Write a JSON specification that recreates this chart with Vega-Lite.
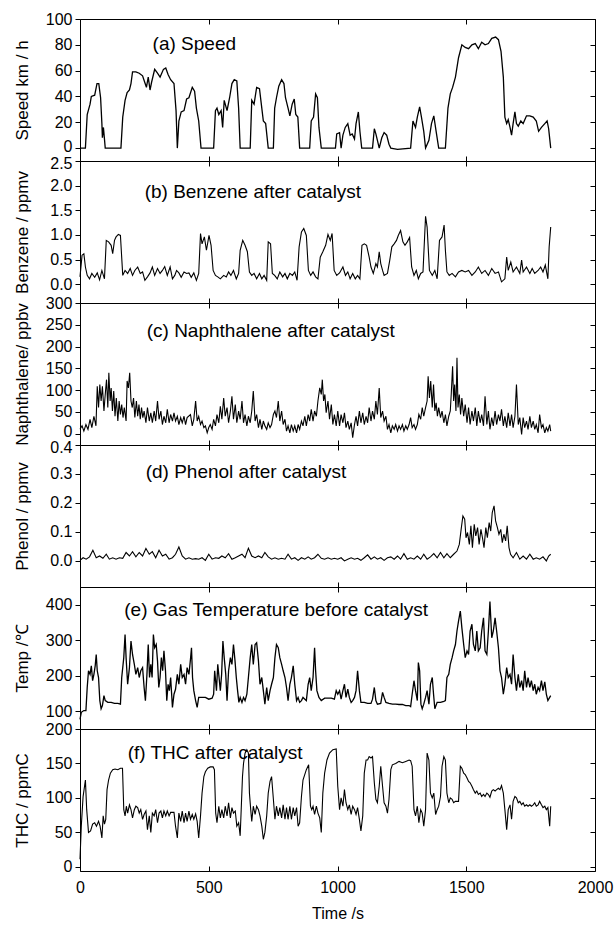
{
"$schema":"https://vega.github.io/schema/vega-lite/v6.json",
"padding":{"left":12,"top":10,"right":4,"bottom":4},
"config":{"font":"Liberation Sans","view":{"stroke":"black","strokeWidth":1},
"axis":{"grid":false,"domain":false,"labelFont":"Liberation Sans","labelFontSize":16,"labelColor":"black","tickColor":"black","titleFont":"Liberation Sans","titleFontSize":17,"titleFontWeight":"normal","titleColor":"black","labelFlush":false,"labelOverlap":false}},
"datasets":{
"speed":[{"t":0,"v":0},{"t":21,"v":0},{"t":28,"v":26},{"t":39,"v":34},{"t":44,"v":40},{"t":57,"v":41},{"t":66,"v":50},{"t":73,"v":50},{"t":80,"v":39},{"t":85,"v":19},{"t":87,"v":8},{"t":91,"v":16},{"t":95,"v":7},{"t":98,"v":0},{"t":159,"v":0},{"t":166,"v":24},{"t":175,"v":37},{"t":183,"v":43},{"t":192,"v":45},{"t":198,"v":50},{"t":204,"v":59},{"t":217,"v":59},{"t":230,"v":58},{"t":243,"v":56},{"t":253,"v":50},{"t":258,"v":47},{"t":265,"v":55},{"t":272,"v":45},{"t":278,"v":51},{"t":290,"v":61},{"t":301,"v":58},{"t":311,"v":55},{"t":324,"v":61},{"t":333,"v":62},{"t":342,"v":57},{"t":352,"v":53},{"t":365,"v":50},{"t":373,"v":29},{"t":378,"v":0},{"t":384,"v":21},{"t":393,"v":28},{"t":404,"v":29},{"t":414,"v":38},{"t":423,"v":39},{"t":436,"v":47},{"t":445,"v":44},{"t":452,"v":31},{"t":461,"v":21},{"t":470,"v":0},{"t":519,"v":0},{"t":526,"v":29},{"t":532,"v":31},{"t":539,"v":26},{"t":548,"v":29},{"t":554,"v":16},{"t":560,"v":37},{"t":571,"v":29},{"t":581,"v":39},{"t":590,"v":50},{"t":599,"v":53},{"t":609,"v":52},{"t":616,"v":31},{"t":622,"v":0},{"t":661,"v":0},{"t":667,"v":37},{"t":676,"v":34},{"t":686,"v":47},{"t":697,"v":46},{"t":706,"v":31},{"t":712,"v":21},{"t":721,"v":19},{"t":731,"v":0},{"t":751,"v":0},{"t":756,"v":31},{"t":763,"v":39},{"t":772,"v":48},{"t":783,"v":53},{"t":792,"v":50},{"t":798,"v":39},{"t":808,"v":31},{"t":815,"v":25},{"t":824,"v":34},{"t":832,"v":38},{"t":838,"v":26},{"t":846,"v":24},{"t":853,"v":0},{"t":892,"v":0},{"t":898,"v":21},{"t":907,"v":24},{"t":915,"v":42},{"t":922,"v":39},{"t":928,"v":16},{"t":937,"v":0},{"t":992,"v":0},{"t":997,"v":11},{"t":1008,"v":12},{"t":1014,"v":0},{"t":1021,"v":10},{"t":1030,"v":16},{"t":1040,"v":19},{"t":1049,"v":10},{"t":1057,"v":11},{"t":1066,"v":7},{"t":1072,"v":19},{"t":1081,"v":28},{"t":1087,"v":13},{"t":1094,"v":0},{"t":1136,"v":0},{"t":1143,"v":15},{"t":1149,"v":11},{"t":1155,"v":6},{"t":1162,"v":0},{"t":1172,"v":8},{"t":1181,"v":12},{"t":1191,"v":10},{"t":1200,"v":3},{"t":1207,"v":0},{"t":1233,"v":-1},{"t":1284,"v":0},{"t":1293,"v":21},{"t":1303,"v":16},{"t":1310,"v":24},{"t":1319,"v":32},{"t":1326,"v":24},{"t":1335,"v":13},{"t":1342,"v":0},{"t":1355,"v":6},{"t":1365,"v":19},{"t":1374,"v":25},{"t":1383,"v":13},{"t":1393,"v":0},{"t":1419,"v":0},{"t":1429,"v":31},{"t":1438,"v":42},{"t":1447,"v":47},{"t":1458,"v":55},{"t":1470,"v":70},{"t":1483,"v":80},{"t":1496,"v":78},{"t":1509,"v":77},{"t":1522,"v":80},{"t":1535,"v":81},{"t":1547,"v":77},{"t":1560,"v":82},{"t":1573,"v":80},{"t":1586,"v":81},{"t":1599,"v":85},{"t":1614,"v":86},{"t":1625,"v":84},{"t":1635,"v":75},{"t":1644,"v":55},{"t":1650,"v":24},{"t":1657,"v":19},{"t":1663,"v":22},{"t":1670,"v":16},{"t":1676,"v":10},{"t":1682,"v":19},{"t":1689,"v":28},{"t":1695,"v":19},{"t":1702,"v":17},{"t":1712,"v":21},{"t":1721,"v":19},{"t":1734,"v":25},{"t":1747,"v":25},{"t":1760,"v":24},{"t":1772,"v":21},{"t":1781,"v":13},{"t":1792,"v":16},{"t":1805,"v":19},{"t":1814,"v":21},{"t":1820,"v":15},{"t":1828,"v":0}],
"benzene":[{"t":0,"v":0.15},{"t":8,"v":0.59},{"t":15,"v":0.62},{"t":21,"v":0.35},{"t":28,"v":0.18},{"t":37,"v":0.11},{"t":46,"v":0.22},{"t":57,"v":0.14},{"t":67,"v":0.23},{"t":76,"v":0.09},{"t":85,"v":0.28},{"t":95,"v":0.11},{"t":102,"v":0.89},{"t":111,"v":0.86},{"t":121,"v":0.79},{"t":127,"v":0.62},{"t":134,"v":0.89},{"t":140,"v":0.96},{"t":149,"v":1.01},{"t":157,"v":0.99},{"t":166,"v":0.18},{"t":175,"v":0.28},{"t":185,"v":0.22},{"t":195,"v":0.32},{"t":204,"v":0.18},{"t":213,"v":0.28},{"t":224,"v":0.35},{"t":234,"v":0.22},{"t":243,"v":0.25},{"t":252,"v":0.08},{"t":262,"v":0.15},{"t":272,"v":0.23},{"t":281,"v":0.35},{"t":290,"v":0.18},{"t":301,"v":0.32},{"t":311,"v":0.22},{"t":320,"v":0.28},{"t":329,"v":0.36},{"t":339,"v":0.18},{"t":350,"v":0.35},{"t":359,"v":0.11},{"t":368,"v":0.18},{"t":375,"v":0.28},{"t":384,"v":0.23},{"t":393,"v":0.14},{"t":404,"v":0.25},{"t":414,"v":0.22},{"t":423,"v":0.23},{"t":432,"v":0.14},{"t":442,"v":0.23},{"t":452,"v":0.08},{"t":461,"v":0.22},{"t":468,"v":1.03},{"t":474,"v":0.82},{"t":483,"v":0.96},{"t":491,"v":0.69},{"t":501,"v":0.99},{"t":509,"v":0.79},{"t":517,"v":0.28},{"t":526,"v":0.18},{"t":535,"v":0.15},{"t":545,"v":0.11},{"t":558,"v":0.18},{"t":568,"v":0.15},{"t":577,"v":0.25},{"t":586,"v":0.18},{"t":596,"v":0.28},{"t":607,"v":0.11},{"t":616,"v":0.22},{"t":622,"v":0.69},{"t":632,"v":0.89},{"t":641,"v":0.79},{"t":650,"v":0.66},{"t":658,"v":0.25},{"t":667,"v":0.18},{"t":676,"v":0.22},{"t":686,"v":0.11},{"t":697,"v":0.22},{"t":706,"v":0.11},{"t":715,"v":0.18},{"t":725,"v":0.08},{"t":731,"v":0.86},{"t":740,"v":0.82},{"t":747,"v":0.22},{"t":756,"v":0.18},{"t":766,"v":0.11},{"t":776,"v":0.25},{"t":787,"v":0.15},{"t":796,"v":0.22},{"t":805,"v":0.11},{"t":815,"v":0.22},{"t":825,"v":0.18},{"t":834,"v":0.25},{"t":843,"v":0.08},{"t":851,"v":0.76},{"t":860,"v":1.06},{"t":869,"v":1.13},{"t":879,"v":0.99},{"t":887,"v":0.28},{"t":896,"v":0.18},{"t":905,"v":0.25},{"t":915,"v":0.15},{"t":924,"v":0.11},{"t":933,"v":0.55},{"t":943,"v":0.66},{"t":954,"v":0.79},{"t":963,"v":1.01},{"t":972,"v":0.89},{"t":979,"v":1.03},{"t":987,"v":0.28},{"t":997,"v":0.18},{"t":1008,"v":0.23},{"t":1021,"v":0.35},{"t":1031,"v":0.18},{"t":1040,"v":0.25},{"t":1049,"v":0.11},{"t":1059,"v":0.22},{"t":1069,"v":0.11},{"t":1078,"v":0.18},{"t":1087,"v":0.11},{"t":1095,"v":0.79},{"t":1104,"v":0.82},{"t":1113,"v":0.79},{"t":1123,"v":0.55},{"t":1130,"v":0.35},{"t":1139,"v":0.22},{"t":1149,"v":0.42},{"t":1155,"v":0.35},{"t":1162,"v":0.66},{"t":1168,"v":0.42},{"t":1175,"v":0.28},{"t":1181,"v":0.18},{"t":1194,"v":0.22},{"t":1203,"v":0.49},{"t":1211,"v":0.76},{"t":1220,"v":0.82},{"t":1229,"v":0.89},{"t":1236,"v":0.99},{"t":1245,"v":1.09},{"t":1254,"v":0.86},{"t":1262,"v":0.79},{"t":1271,"v":0.86},{"t":1280,"v":0.95},{"t":1288,"v":0.35},{"t":1297,"v":0.18},{"t":1306,"v":0.28},{"t":1314,"v":0.11},{"t":1323,"v":0.22},{"t":1332,"v":0.25},{"t":1342,"v":1.38},{"t":1348,"v":1.16},{"t":1357,"v":0.28},{"t":1368,"v":0.18},{"t":1378,"v":0.28},{"t":1387,"v":0.11},{"t":1396,"v":0.89},{"t":1406,"v":0.96},{"t":1414,"v":1.2},{"t":1419,"v":0.69},{"t":1425,"v":0.25},{"t":1434,"v":0.18},{"t":1445,"v":0.22},{"t":1458,"v":0.15},{"t":1470,"v":0.25},{"t":1483,"v":0.28},{"t":1496,"v":0.25},{"t":1509,"v":0.28},{"t":1522,"v":0.18},{"t":1535,"v":0.25},{"t":1547,"v":0.35},{"t":1560,"v":0.22},{"t":1573,"v":0.28},{"t":1586,"v":0.18},{"t":1599,"v":0.32},{"t":1612,"v":0.22},{"t":1625,"v":0.25},{"t":1637,"v":0.05},{"t":1650,"v":0.11},{"t":1657,"v":0.55},{"t":1663,"v":0.28},{"t":1673,"v":0.45},{"t":1682,"v":0.25},{"t":1695,"v":0.35},{"t":1708,"v":0.22},{"t":1715,"v":0.49},{"t":1721,"v":0.25},{"t":1734,"v":0.35},{"t":1747,"v":0.22},{"t":1756,"v":0.32},{"t":1766,"v":0.22},{"t":1779,"v":0.28},{"t":1789,"v":0.35},{"t":1798,"v":0.25},{"t":1807,"v":0.39},{"t":1817,"v":0.11},{"t":1822,"v":0.76},{"t":1828,"v":1.16}],
"naph":[{"t":0,"v":10},{"t":8,"v":18},{"t":15,"v":6},{"t":23,"v":21},{"t":31,"v":10},{"t":39,"v":33},{"t":46,"v":14},{"t":54,"v":40},{"t":62,"v":18},{"t":67,"v":109},{"t":72,"v":60},{"t":77,"v":113},{"t":82,"v":75},{"t":87,"v":109},{"t":93,"v":52},{"t":98,"v":90},{"t":103,"v":124},{"t":108,"v":60},{"t":112,"v":140},{"t":117,"v":75},{"t":121,"v":105},{"t":126,"v":52},{"t":131,"v":98},{"t":136,"v":40},{"t":141,"v":82},{"t":147,"v":29},{"t":152,"v":75},{"t":157,"v":44},{"t":162,"v":67},{"t":167,"v":37},{"t":172,"v":60},{"t":179,"v":29},{"t":183,"v":121},{"t":188,"v":105},{"t":193,"v":140},{"t":198,"v":75},{"t":203,"v":60},{"t":208,"v":82},{"t":213,"v":37},{"t":219,"v":75},{"t":224,"v":40},{"t":229,"v":67},{"t":234,"v":33},{"t":239,"v":60},{"t":244,"v":37},{"t":249,"v":52},{"t":256,"v":25},{"t":262,"v":60},{"t":269,"v":29},{"t":275,"v":48},{"t":281,"v":25},{"t":288,"v":52},{"t":294,"v":29},{"t":301,"v":75},{"t":307,"v":33},{"t":314,"v":52},{"t":320,"v":21},{"t":326,"v":40},{"t":333,"v":25},{"t":339,"v":56},{"t":346,"v":25},{"t":352,"v":44},{"t":359,"v":29},{"t":365,"v":48},{"t":371,"v":29},{"t":378,"v":40},{"t":384,"v":21},{"t":391,"v":37},{"t":397,"v":25},{"t":404,"v":40},{"t":410,"v":21},{"t":416,"v":37},{"t":429,"v":44},{"t":436,"v":18},{"t":442,"v":33},{"t":449,"v":75},{"t":455,"v":29},{"t":461,"v":40},{"t":468,"v":21},{"t":474,"v":29},{"t":481,"v":14},{"t":487,"v":18},{"t":494,"v":2},{"t":500,"v":14},{"t":506,"v":21},{"t":513,"v":10},{"t":519,"v":33},{"t":526,"v":18},{"t":532,"v":44},{"t":539,"v":25},{"t":545,"v":63},{"t":551,"v":33},{"t":558,"v":82},{"t":564,"v":40},{"t":571,"v":60},{"t":577,"v":25},{"t":584,"v":52},{"t":590,"v":86},{"t":596,"v":33},{"t":603,"v":67},{"t":609,"v":25},{"t":616,"v":52},{"t":622,"v":33},{"t":629,"v":75},{"t":635,"v":25},{"t":641,"v":44},{"t":648,"v":18},{"t":654,"v":40},{"t":661,"v":25},{"t":667,"v":52},{"t":673,"v":98},{"t":680,"v":29},{"t":686,"v":44},{"t":693,"v":14},{"t":699,"v":33},{"t":706,"v":10},{"t":712,"v":29},{"t":718,"v":18},{"t":725,"v":10},{"t":731,"v":25},{"t":738,"v":14},{"t":744,"v":21},{"t":751,"v":44},{"t":757,"v":52},{"t":763,"v":37},{"t":770,"v":75},{"t":776,"v":29},{"t":783,"v":52},{"t":789,"v":21},{"t":796,"v":33},{"t":802,"v":6},{"t":808,"v":18},{"t":815,"v":2},{"t":821,"v":21},{"t":828,"v":6},{"t":834,"v":18},{"t":841,"v":2},{"t":847,"v":21},{"t":853,"v":10},{"t":860,"v":29},{"t":866,"v":18},{"t":873,"v":40},{"t":879,"v":18},{"t":886,"v":44},{"t":892,"v":29},{"t":898,"v":56},{"t":905,"v":29},{"t":911,"v":52},{"t":918,"v":40},{"t":924,"v":75},{"t":931,"v":105},{"t":937,"v":90},{"t":941,"v":124},{"t":946,"v":75},{"t":951,"v":90},{"t":956,"v":48},{"t":963,"v":75},{"t":969,"v":33},{"t":976,"v":67},{"t":982,"v":21},{"t":988,"v":44},{"t":995,"v":18},{"t":1001,"v":52},{"t":1008,"v":18},{"t":1014,"v":44},{"t":1021,"v":25},{"t":1027,"v":48},{"t":1033,"v":14},{"t":1040,"v":29},{"t":1046,"v":10},{"t":1053,"v":25},{"t":1059,"v":-9},{"t":1066,"v":21},{"t":1072,"v":40},{"t":1078,"v":18},{"t":1085,"v":52},{"t":1091,"v":25},{"t":1098,"v":48},{"t":1104,"v":21},{"t":1111,"v":40},{"t":1117,"v":25},{"t":1123,"v":60},{"t":1130,"v":29},{"t":1136,"v":52},{"t":1143,"v":33},{"t":1149,"v":75},{"t":1155,"v":44},{"t":1162,"v":105},{"t":1168,"v":37},{"t":1175,"v":52},{"t":1181,"v":29},{"t":1188,"v":40},{"t":1194,"v":10},{"t":1200,"v":21},{"t":1207,"v":2},{"t":1213,"v":18},{"t":1220,"v":10},{"t":1226,"v":21},{"t":1233,"v":6},{"t":1239,"v":18},{"t":1245,"v":10},{"t":1252,"v":21},{"t":1258,"v":6},{"t":1265,"v":18},{"t":1271,"v":10},{"t":1278,"v":21},{"t":1284,"v":37},{"t":1290,"v":14},{"t":1297,"v":21},{"t":1303,"v":10},{"t":1310,"v":21},{"t":1316,"v":44},{"t":1323,"v":33},{"t":1329,"v":60},{"t":1335,"v":40},{"t":1342,"v":60},{"t":1348,"v":75},{"t":1352,"v":132},{"t":1357,"v":82},{"t":1362,"v":121},{"t":1368,"v":60},{"t":1373,"v":113},{"t":1378,"v":52},{"t":1383,"v":71},{"t":1388,"v":40},{"t":1393,"v":60},{"t":1400,"v":37},{"t":1406,"v":52},{"t":1413,"v":25},{"t":1419,"v":44},{"t":1425,"v":18},{"t":1432,"v":40},{"t":1438,"v":52},{"t":1442,"v":94},{"t":1447,"v":155},{"t":1451,"v":75},{"t":1455,"v":113},{"t":1460,"v":52},{"t":1464,"v":174},{"t":1468,"v":60},{"t":1473,"v":90},{"t":1478,"v":44},{"t":1483,"v":82},{"t":1490,"v":40},{"t":1496,"v":67},{"t":1503,"v":25},{"t":1509,"v":60},{"t":1515,"v":21},{"t":1522,"v":52},{"t":1528,"v":29},{"t":1535,"v":60},{"t":1541,"v":18},{"t":1547,"v":52},{"t":1554,"v":25},{"t":1560,"v":44},{"t":1567,"v":18},{"t":1573,"v":86},{"t":1580,"v":21},{"t":1586,"v":52},{"t":1592,"v":10},{"t":1599,"v":37},{"t":1605,"v":18},{"t":1612,"v":52},{"t":1618,"v":21},{"t":1625,"v":44},{"t":1631,"v":29},{"t":1637,"v":56},{"t":1644,"v":18},{"t":1650,"v":40},{"t":1657,"v":14},{"t":1663,"v":48},{"t":1670,"v":18},{"t":1676,"v":44},{"t":1682,"v":14},{"t":1689,"v":40},{"t":1695,"v":113},{"t":1702,"v":21},{"t":1708,"v":37},{"t":1715,"v":-2},{"t":1721,"v":37},{"t":1727,"v":14},{"t":1734,"v":29},{"t":1740,"v":10},{"t":1747,"v":40},{"t":1753,"v":14},{"t":1760,"v":29},{"t":1766,"v":10},{"t":1772,"v":21},{"t":1779,"v":2},{"t":1785,"v":44},{"t":1792,"v":14},{"t":1798,"v":21},{"t":1805,"v":2},{"t":1811,"v":14},{"t":1817,"v":6},{"t":1824,"v":21},{"t":1828,"v":6}],
"phenol":[{"t":0,"v":0.002},{"t":12,"v":0.011},{"t":24,"v":0.006},{"t":37,"v":0.014},{"t":50,"v":0.037},{"t":63,"v":0.011},{"t":76,"v":0.017},{"t":89,"v":0.009},{"t":102,"v":0.023},{"t":114,"v":0.006},{"t":127,"v":0.011},{"t":140,"v":0.006},{"t":153,"v":0.011},{"t":166,"v":0.009},{"t":179,"v":0.029},{"t":192,"v":0.017},{"t":204,"v":0.032},{"t":217,"v":0.014},{"t":230,"v":0.029},{"t":243,"v":0.017},{"t":256,"v":0.043},{"t":269,"v":0.023},{"t":281,"v":0.032},{"t":294,"v":0.011},{"t":307,"v":0.037},{"t":320,"v":0.017},{"t":333,"v":0.023},{"t":346,"v":0.006},{"t":359,"v":0.011},{"t":371,"v":0.023},{"t":384,"v":0.048},{"t":397,"v":0.017},{"t":410,"v":0.006},{"t":423,"v":0.011},{"t":436,"v":0.006},{"t":449,"v":0.008},{"t":461,"v":0.006},{"t":474,"v":0.011},{"t":487,"v":0.002},{"t":500,"v":0.023},{"t":513,"v":0.006},{"t":526,"v":0.011},{"t":539,"v":0.009},{"t":551,"v":0.017},{"t":564,"v":0.011},{"t":577,"v":0.025},{"t":590,"v":0.006},{"t":603,"v":0.011},{"t":616,"v":0.017},{"t":629,"v":0.023},{"t":641,"v":0.011},{"t":654,"v":0.044},{"t":667,"v":0.017},{"t":680,"v":0.011},{"t":693,"v":0.017},{"t":706,"v":0.011},{"t":718,"v":0.029},{"t":731,"v":0.014},{"t":744,"v":0.006},{"t":757,"v":0.011},{"t":770,"v":0.006},{"t":783,"v":0.009},{"t":796,"v":0.006},{"t":808,"v":0.023},{"t":821,"v":0.006},{"t":834,"v":0.011},{"t":847,"v":0.002},{"t":860,"v":0.011},{"t":873,"v":0.006},{"t":886,"v":0.014},{"t":898,"v":0.006},{"t":911,"v":0.011},{"t":924,"v":0.023},{"t":937,"v":0.009},{"t":950,"v":0.006},{"t":963,"v":0.011},{"t":976,"v":0.006},{"t":988,"v":0.009},{"t":1001,"v":0.006},{"t":1014,"v":0.011},{"t":1027,"v":0},{"t":1040,"v":0.006},{"t":1053,"v":0.011},{"t":1066,"v":0.006},{"t":1078,"v":0.009},{"t":1091,"v":0.002},{"t":1104,"v":0.011},{"t":1117,"v":0.021},{"t":1130,"v":0.006},{"t":1143,"v":0.014},{"t":1155,"v":0.006},{"t":1168,"v":0.011},{"t":1181,"v":0.002},{"t":1194,"v":0.011},{"t":1207,"v":0.014},{"t":1220,"v":0.006},{"t":1233,"v":0.017},{"t":1245,"v":0.006},{"t":1258,"v":0.025},{"t":1271,"v":0.006},{"t":1284,"v":0.011},{"t":1297,"v":0.006},{"t":1310,"v":0.017},{"t":1323,"v":0.006},{"t":1335,"v":0.023},{"t":1348,"v":0.006},{"t":1361,"v":0.014},{"t":1374,"v":0.025},{"t":1387,"v":0.011},{"t":1400,"v":0.029},{"t":1413,"v":0.011},{"t":1425,"v":0.025},{"t":1438,"v":0.011},{"t":1451,"v":0.023},{"t":1464,"v":0.034},{"t":1473,"v":0.057},{"t":1481,"v":0.115},{"t":1487,"v":0.155},{"t":1494,"v":0.144},{"t":1499,"v":0.08},{"t":1505,"v":0.098},{"t":1512,"v":0.057},{"t":1518,"v":0.121},{"t":1524,"v":0.046},{"t":1531,"v":0.126},{"t":1537,"v":0.086},{"t":1544,"v":0.115},{"t":1550,"v":0.057},{"t":1557,"v":0.109},{"t":1563,"v":0.08},{"t":1569,"v":0.046},{"t":1576,"v":0.115},{"t":1582,"v":0.08},{"t":1589,"v":0.132},{"t":1595,"v":0.103},{"t":1601,"v":0.167},{"t":1608,"v":0.19},{"t":1614,"v":0.138},{"t":1621,"v":0.115},{"t":1627,"v":0.092},{"t":1634,"v":0.109},{"t":1640,"v":0.063},{"t":1646,"v":0.092},{"t":1653,"v":0.069},{"t":1659,"v":0.121},{"t":1666,"v":0.046},{"t":1672,"v":0.023},{"t":1682,"v":0.011},{"t":1695,"v":0.029},{"t":1708,"v":0.006},{"t":1721,"v":0.017},{"t":1734,"v":0.006},{"t":1747,"v":0.023},{"t":1760,"v":0.006},{"t":1772,"v":0.011},{"t":1785,"v":0.006},{"t":1798,"v":0.014},{"t":1811,"v":0},{"t":1820,"v":0.017},{"t":1828,"v":0.023}],
"temp":[{"t":0,"v":77},{"t":5,"v":97},{"t":15,"v":102},{"t":23,"v":102},{"t":28,"v":167},{"t":33,"v":214},{"t":39,"v":204},{"t":44,"v":228},{"t":49,"v":186},{"t":54,"v":204},{"t":59,"v":228},{"t":63,"v":260},{"t":67,"v":214},{"t":72,"v":195},{"t":77,"v":130},{"t":82,"v":107},{"t":87,"v":116},{"t":93,"v":144},{"t":98,"v":130},{"t":108,"v":125},{"t":121,"v":125},{"t":134,"v":122},{"t":147,"v":122},{"t":157,"v":120},{"t":162,"v":195},{"t":170,"v":251},{"t":175,"v":316},{"t":179,"v":251},{"t":185,"v":176},{"t":192,"v":223},{"t":198,"v":298},{"t":204,"v":260},{"t":211,"v":232},{"t":217,"v":204},{"t":224,"v":223},{"t":230,"v":195},{"t":236,"v":214},{"t":243,"v":223},{"t":249,"v":167},{"t":254,"v":130},{"t":260,"v":204},{"t":265,"v":288},{"t":270,"v":195},{"t":275,"v":232},{"t":280,"v":195},{"t":285,"v":316},{"t":290,"v":279},{"t":296,"v":288},{"t":301,"v":242},{"t":306,"v":167},{"t":311,"v":195},{"t":316,"v":251},{"t":321,"v":214},{"t":326,"v":270},{"t":332,"v":214},{"t":337,"v":130},{"t":342,"v":176},{"t":347,"v":158},{"t":352,"v":195},{"t":359,"v":111},{"t":365,"v":148},{"t":371,"v":162},{"t":378,"v":204},{"t":384,"v":176},{"t":391,"v":232},{"t":397,"v":195},{"t":404,"v":204},{"t":410,"v":176},{"t":416,"v":223},{"t":423,"v":204},{"t":429,"v":246},{"t":433,"v":279},{"t":437,"v":195},{"t":442,"v":158},{"t":449,"v":130},{"t":455,"v":111},{"t":461,"v":139},{"t":474,"v":139},{"t":487,"v":139},{"t":500,"v":134},{"t":513,"v":137},{"t":519,"v":148},{"t":523,"v":214},{"t":530,"v":158},{"t":535,"v":232},{"t":540,"v":195},{"t":545,"v":158},{"t":550,"v":204},{"t":555,"v":298},{"t":560,"v":251},{"t":566,"v":204},{"t":571,"v":130},{"t":577,"v":214},{"t":584,"v":251},{"t":590,"v":232},{"t":596,"v":288},{"t":602,"v":242},{"t":607,"v":195},{"t":612,"v":158},{"t":617,"v":125},{"t":622,"v":139},{"t":629,"v":125},{"t":635,"v":139},{"t":641,"v":130},{"t":648,"v":148},{"t":654,"v":195},{"t":661,"v":251},{"t":667,"v":288},{"t":673,"v":232},{"t":680,"v":288},{"t":686,"v":293},{"t":693,"v":242},{"t":699,"v":176},{"t":706,"v":195},{"t":712,"v":158},{"t":718,"v":120},{"t":725,"v":167},{"t":731,"v":130},{"t":738,"v":158},{"t":744,"v":176},{"t":751,"v":195},{"t":757,"v":251},{"t":763,"v":288},{"t":770,"v":279},{"t":776,"v":251},{"t":783,"v":232},{"t":789,"v":214},{"t":796,"v":195},{"t":802,"v":167},{"t":808,"v":130},{"t":815,"v":176},{"t":821,"v":195},{"t":828,"v":228},{"t":834,"v":176},{"t":841,"v":130},{"t":847,"v":139},{"t":853,"v":125},{"t":860,"v":130},{"t":866,"v":139},{"t":879,"v":130},{"t":886,"v":176},{"t":892,"v":195},{"t":898,"v":158},{"t":905,"v":195},{"t":911,"v":279},{"t":915,"v":214},{"t":920,"v":158},{"t":928,"v":139},{"t":937,"v":130},{"t":950,"v":137},{"t":963,"v":137},{"t":976,"v":137},{"t":988,"v":134},{"t":995,"v":158},{"t":1001,"v":148},{"t":1008,"v":158},{"t":1014,"v":134},{"t":1021,"v":158},{"t":1027,"v":176},{"t":1033,"v":139},{"t":1040,"v":162},{"t":1046,"v":139},{"t":1053,"v":125},{"t":1059,"v":130},{"t":1066,"v":139},{"t":1072,"v":158},{"t":1078,"v":214},{"t":1085,"v":158},{"t":1091,"v":125},{"t":1104,"v":125},{"t":1117,"v":122},{"t":1130,"v":122},{"t":1136,"v":134},{"t":1143,"v":167},{"t":1149,"v":130},{"t":1155,"v":120},{"t":1168,"v":122},{"t":1175,"v":153},{"t":1181,"v":139},{"t":1188,"v":125},{"t":1200,"v":122},{"t":1213,"v":120},{"t":1226,"v":120},{"t":1239,"v":119},{"t":1252,"v":119},{"t":1265,"v":116},{"t":1278,"v":116},{"t":1284,"v":113},{"t":1290,"v":148},{"t":1297,"v":186},{"t":1303,"v":158},{"t":1310,"v":130},{"t":1314,"v":237},{"t":1319,"v":214},{"t":1324,"v":120},{"t":1329,"v":107},{"t":1335,"v":120},{"t":1342,"v":139},{"t":1348,"v":158},{"t":1355,"v":120},{"t":1361,"v":176},{"t":1368,"v":195},{"t":1373,"v":148},{"t":1378,"v":107},{"t":1387,"v":125},{"t":1400,"v":125},{"t":1413,"v":128},{"t":1419,"v":130},{"t":1425,"v":195},{"t":1432,"v":204},{"t":1438,"v":232},{"t":1445,"v":251},{"t":1451,"v":270},{"t":1458,"v":288},{"t":1464,"v":326},{"t":1470,"v":354},{"t":1477,"v":382},{"t":1483,"v":335},{"t":1490,"v":288},{"t":1496,"v":251},{"t":1503,"v":270},{"t":1509,"v":260},{"t":1515,"v":326},{"t":1522,"v":345},{"t":1528,"v":288},{"t":1535,"v":270},{"t":1541,"v":326},{"t":1547,"v":270},{"t":1554,"v":279},{"t":1560,"v":326},{"t":1567,"v":363},{"t":1573,"v":270},{"t":1580,"v":260},{"t":1586,"v":326},{"t":1592,"v":409},{"t":1599,"v":307},{"t":1605,"v":326},{"t":1612,"v":363},{"t":1618,"v":326},{"t":1625,"v":279},{"t":1631,"v":214},{"t":1637,"v":195},{"t":1644,"v":148},{"t":1650,"v":176},{"t":1657,"v":223},{"t":1663,"v":195},{"t":1670,"v":204},{"t":1676,"v":176},{"t":1682,"v":260},{"t":1689,"v":195},{"t":1695,"v":158},{"t":1702,"v":204},{"t":1708,"v":167},{"t":1715,"v":186},{"t":1721,"v":158},{"t":1727,"v":214},{"t":1734,"v":167},{"t":1740,"v":195},{"t":1747,"v":167},{"t":1753,"v":186},{"t":1760,"v":158},{"t":1766,"v":176},{"t":1772,"v":148},{"t":1779,"v":167},{"t":1785,"v":158},{"t":1792,"v":186},{"t":1798,"v":158},{"t":1805,"v":183},{"t":1811,"v":148},{"t":1817,"v":130},{"t":1824,"v":139},{"t":1828,"v":144}],
"thc":[{"t":0,"v":11},{"t":5,"v":59},{"t":12,"v":102},{"t":21,"v":126},{"t":26,"v":83},{"t":33,"v":50},{"t":41,"v":52},{"t":49,"v":62},{"t":57,"v":64},{"t":64,"v":59},{"t":72,"v":66},{"t":78,"v":59},{"t":85,"v":42},{"t":90,"v":74},{"t":95,"v":62},{"t":100,"v":69},{"t":105,"v":112},{"t":111,"v":126},{"t":118,"v":136},{"t":127,"v":141},{"t":136,"v":142},{"t":147,"v":141},{"t":157,"v":143},{"t":165,"v":143},{"t":170,"v":83},{"t":175,"v":74},{"t":180,"v":88},{"t":185,"v":78},{"t":192,"v":90},{"t":198,"v":83},{"t":204,"v":71},{"t":211,"v":83},{"t":217,"v":88},{"t":224,"v":86},{"t":230,"v":78},{"t":236,"v":83},{"t":243,"v":69},{"t":249,"v":76},{"t":256,"v":81},{"t":262,"v":54},{"t":269,"v":74},{"t":275,"v":50},{"t":281,"v":78},{"t":288,"v":74},{"t":294,"v":83},{"t":301,"v":64},{"t":307,"v":78},{"t":314,"v":81},{"t":320,"v":71},{"t":326,"v":81},{"t":333,"v":74},{"t":339,"v":81},{"t":346,"v":74},{"t":352,"v":79},{"t":365,"v":79},{"t":371,"v":59},{"t":378,"v":42},{"t":384,"v":78},{"t":391,"v":66},{"t":397,"v":81},{"t":404,"v":64},{"t":410,"v":78},{"t":416,"v":66},{"t":423,"v":81},{"t":429,"v":69},{"t":436,"v":76},{"t":442,"v":69},{"t":449,"v":77},{"t":455,"v":66},{"t":461,"v":42},{"t":468,"v":74},{"t":474,"v":107},{"t":481,"v":131},{"t":487,"v":138},{"t":496,"v":143},{"t":506,"v":145},{"t":517,"v":145},{"t":522,"v":141},{"t":527,"v":78},{"t":532,"v":64},{"t":539,"v":88},{"t":545,"v":71},{"t":551,"v":83},{"t":558,"v":71},{"t":564,"v":88},{"t":571,"v":74},{"t":577,"v":93},{"t":584,"v":71},{"t":590,"v":86},{"t":596,"v":78},{"t":603,"v":81},{"t":609,"v":59},{"t":616,"v":64},{"t":622,"v":45},{"t":626,"v":83},{"t":631,"v":131},{"t":635,"v":150},{"t":641,"v":165},{"t":648,"v":170},{"t":654,"v":165},{"t":658,"v":107},{"t":663,"v":83},{"t":667,"v":66},{"t":673,"v":88},{"t":680,"v":76},{"t":686,"v":88},{"t":693,"v":83},{"t":699,"v":74},{"t":706,"v":59},{"t":712,"v":40},{"t":718,"v":50},{"t":725,"v":74},{"t":731,"v":107},{"t":738,"v":124},{"t":744,"v":131},{"t":751,"v":98},{"t":757,"v":69},{"t":763,"v":88},{"t":770,"v":74},{"t":776,"v":86},{"t":783,"v":71},{"t":789,"v":90},{"t":796,"v":69},{"t":802,"v":86},{"t":808,"v":69},{"t":815,"v":88},{"t":821,"v":69},{"t":828,"v":86},{"t":834,"v":74},{"t":841,"v":86},{"t":847,"v":59},{"t":853,"v":64},{"t":860,"v":102},{"t":866,"v":126},{"t":879,"v":141},{"t":888,"v":148},{"t":895,"v":88},{"t":900,"v":83},{"t":905,"v":88},{"t":911,"v":76},{"t":918,"v":88},{"t":924,"v":78},{"t":931,"v":71},{"t":937,"v":50},{"t":943,"v":107},{"t":950,"v":136},{"t":959,"v":155},{"t":969,"v":165},{"t":982,"v":170},{"t":995,"v":171},{"t":1001,"v":117},{"t":1008,"v":83},{"t":1014,"v":100},{"t":1021,"v":88},{"t":1027,"v":112},{"t":1033,"v":93},{"t":1040,"v":83},{"t":1046,"v":90},{"t":1053,"v":76},{"t":1059,"v":88},{"t":1066,"v":83},{"t":1072,"v":76},{"t":1078,"v":86},{"t":1085,"v":69},{"t":1091,"v":52},{"t":1098,"v":74},{"t":1104,"v":136},{"t":1111,"v":155},{"t":1117,"v":155},{"t":1123,"v":160},{"t":1130,"v":158},{"t":1136,"v":160},{"t":1143,"v":122},{"t":1149,"v":98},{"t":1155,"v":93},{"t":1162,"v":117},{"t":1168,"v":146},{"t":1175,"v":117},{"t":1181,"v":93},{"t":1188,"v":88},{"t":1194,"v":78},{"t":1200,"v":98},{"t":1207,"v":141},{"t":1213,"v":148},{"t":1226,"v":150},{"t":1239,"v":153},{"t":1252,"v":151},{"t":1265,"v":153},{"t":1278,"v":155},{"t":1284,"v":154},{"t":1290,"v":146},{"t":1297,"v":83},{"t":1303,"v":74},{"t":1310,"v":88},{"t":1316,"v":64},{"t":1323,"v":83},{"t":1329,"v":78},{"t":1335,"v":59},{"t":1342,"v":83},{"t":1348,"v":165},{"t":1355,"v":155},{"t":1361,"v":107},{"t":1368,"v":100},{"t":1374,"v":107},{"t":1381,"v":76},{"t":1387,"v":83},{"t":1393,"v":88},{"t":1400,"v":102},{"t":1406,"v":146},{"t":1413,"v":160},{"t":1419,"v":155},{"t":1425,"v":107},{"t":1432,"v":93},{"t":1438,"v":100},{"t":1445,"v":98},{"t":1451,"v":93},{"t":1458,"v":95},{"t":1470,"v":95},{"t":1477,"v":146},{"t":1483,"v":143},{"t":1490,"v":136},{"t":1496,"v":134},{"t":1503,"v":129},{"t":1509,"v":124},{"t":1515,"v":122},{"t":1522,"v":117},{"t":1528,"v":112},{"t":1535,"v":107},{"t":1541,"v":110},{"t":1547,"v":105},{"t":1554,"v":107},{"t":1560,"v":102},{"t":1567,"v":105},{"t":1573,"v":102},{"t":1580,"v":107},{"t":1586,"v":105},{"t":1592,"v":101},{"t":1599,"v":110},{"t":1605,"v":112},{"t":1612,"v":110},{"t":1618,"v":112},{"t":1625,"v":114},{"t":1631,"v":112},{"t":1637,"v":118},{"t":1644,"v":107},{"t":1650,"v":83},{"t":1657,"v":54},{"t":1663,"v":83},{"t":1670,"v":90},{"t":1676,"v":69},{"t":1682,"v":95},{"t":1689,"v":102},{"t":1695,"v":100},{"t":1702,"v":93},{"t":1708,"v":95},{"t":1715,"v":90},{"t":1721,"v":93},{"t":1727,"v":88},{"t":1734,"v":90},{"t":1740,"v":88},{"t":1747,"v":90},{"t":1753,"v":88},{"t":1760,"v":90},{"t":1766,"v":93},{"t":1772,"v":88},{"t":1779,"v":90},{"t":1785,"v":95},{"t":1792,"v":90},{"t":1798,"v":86},{"t":1805,"v":88},{"t":1811,"v":83},{"t":1817,"v":86},{"t":1824,"v":59},{"t":1828,"v":88}]
},
"spacing":0,
"bounds":"flush",
"vconcat":[
{"width":515,"height":142,"resolve":{"axis":{"x":"independent","y":"independent"}},
"layer":[
{"data":{"name":"speed"},"mark":{"type":"line","color":"black","strokeWidth":1.3},
"encoding":{"x":{"field":"t","type":"quantitative","scale":{"domain":[0,2000],"nice":false},"axis":{"orient":"bottom","values":[0,500,1000,1500,2000],"tickSize":-5,"labels":false,"title":null}},
"y":{"field":"v","type":"quantitative","scale":{"domain":[-10,100],"nice":false,"zero":false},"axis":{"orient":"left","values":[0,20,40,60,80,100],"tickSize":5,"labelPadding":3,"labelOffset":{"condition":{"test":"datum.value == 0","value":-2},"value":0},"title":"Speed  km / h","titleX":-58,"titleY":71,"titleAngle":-90,"titleAlign":"center","titleBaseline":"middle"}}}},
{"data":{"values":[{}]},"mark":{"type":"text","align":"left","baseline":"alphabetic","fontSize":19,"font":"Liberation Sans","color":"black"},
"encoding":{"x":{"datum":282,"type":"quantitative","scale":{"domain":[0,2000],"nice":false},"axis":{"orient":"top","values":[0,500,1000,1500,2000],"tickSize":-5,"labels":false,"title":null}},
"y":{"datum":76,"type":"quantitative","scale":{"domain":[-10,100],"nice":false,"zero":false},"axis":{"orient":"right","values":[0,20,40,60,80,100],"tickSize":-5,"labels":false,"title":null}},
"text":{"value":"(a) Speed"}}}]},
{"width":515,"height":142,"resolve":{"axis":{"x":"independent","y":"independent"}},
"layer":[
{"data":{"name":"benzene"},"mark":{"type":"line","color":"black","strokeWidth":1.1},
"encoding":{"x":{"field":"t","type":"quantitative","scale":{"domain":[0,2000],"nice":false},"axis":{"orient":"bottom","values":[0,500,1000,1500,2000],"tickSize":-5,"labels":false,"title":null}},
"y":{"field":"v","type":"quantitative","scale":{"domain":[-0.38,2.5],"nice":false,"zero":false},"axis":{"orient":"left","values":[0,0.5,1,1.5,2,2.5],"format":".1f","tickSize":5,"labelPadding":3,"labelOffset":{"condition":{"test":"datum.value == 2.5","value":2},"value":0},"title":"Benzene  / ppmv","titleX":-58,"titleY":71,"titleAngle":-90,"titleAlign":"center","titleBaseline":"middle"}}}},
{"data":{"values":[{}]},"mark":{"type":"text","align":"left","baseline":"alphabetic","fontSize":19,"font":"Liberation Sans","color":"black"},
"encoding":{"x":{"datum":251,"type":"quantitative","scale":{"domain":[0,2000],"nice":false},"axis":{"orient":"top","values":[0,500,1000,1500,2000],"tickSize":-5,"labels":false,"title":null}},
"y":{"datum":1.75,"type":"quantitative","scale":{"domain":[-0.38,2.5],"nice":false,"zero":false},"axis":{"orient":"right","values":[0,0.5,1,1.5,2,2.5],"tickSize":-5,"labels":false,"title":null}},
"text":{"value":"(b) Benzene after catalyst"}}}]},
{"width":515,"height":142,"resolve":{"axis":{"x":"independent","y":"independent"}},
"layer":[
{"data":{"name":"naph"},"mark":{"type":"line","color":"black","strokeWidth":1.1},
"encoding":{"x":{"field":"t","type":"quantitative","scale":{"domain":[0,2000],"nice":false},"axis":{"orient":"bottom","values":[0,500,1000,1500,2000],"tickSize":-5,"labels":false,"title":null}},
"y":{"field":"v","type":"quantitative","scale":{"domain":[-26,300],"nice":false,"zero":false},"axis":{"orient":"left","values":[0,50,100,150,200,250,300],"tickSize":5,"labelPadding":3,"labelOffset":{"condition":{"test":"datum.value == 0","value":-2},"value":0},"title":"Naphthalene/ ppbv","titleX":-58,"titleY":71,"titleAngle":-90,"titleAlign":"center","titleBaseline":"middle"}}}},
{"data":{"values":[{}]},"mark":{"type":"text","align":"left","baseline":"alphabetic","fontSize":19,"font":"Liberation Sans","color":"black"},
"encoding":{"x":{"datum":259,"type":"quantitative","scale":{"domain":[0,2000],"nice":false},"axis":{"orient":"top","values":[0,500,1000,1500,2000],"tickSize":-5,"labels":false,"title":null}},
"y":{"datum":222,"type":"quantitative","scale":{"domain":[-26,300],"nice":false,"zero":false},"axis":{"orient":"right","values":[0,50,100,150,200,250,300],"tickSize":-5,"labels":false,"title":null}},
"text":{"value":"(c) Naphthalene after catalyst"}}}]},
{"width":515,"height":142,"resolve":{"axis":{"x":"independent","y":"independent"}},
"layer":[
{"data":{"name":"phenol"},"mark":{"type":"line","color":"black","strokeWidth":1.1},
"encoding":{"x":{"field":"t","type":"quantitative","scale":{"domain":[0,2000],"nice":false},"axis":{"orient":"bottom","values":[0,500,1000,1500,2000],"tickSize":-5,"labels":false,"title":null}},
"y":{"field":"v","type":"quantitative","scale":{"domain":[-0.09,0.4],"nice":false,"zero":false},"axis":{"orient":"left","values":[0,0.1,0.2,0.3,0.4],"format":".1f","tickSize":5,"labelPadding":3,"labelOffset":{"condition":{"test":"datum.value == 0.4","value":2},"value":0},"title":"Phenol  / ppmv","titleX":-58,"titleY":71,"titleAngle":-90,"titleAlign":"center","titleBaseline":"middle"}}}},
{"data":{"values":[{}]},"mark":{"type":"text","align":"left","baseline":"alphabetic","fontSize":19,"font":"Liberation Sans","color":"black"},
"encoding":{"x":{"datum":255,"type":"quantitative","scale":{"domain":[0,2000],"nice":false},"axis":{"orient":"top","values":[0,500,1000,1500,2000],"tickSize":-5,"labels":false,"title":null}},
"y":{"datum":0.287,"type":"quantitative","scale":{"domain":[-0.09,0.4],"nice":false,"zero":false},"axis":{"orient":"right","values":[0,0.1,0.2,0.3,0.4],"tickSize":-5,"labels":false,"title":null}},
"text":{"value":"(d) Phenol after catalyst"}}}]},
{"width":515,"height":142,"resolve":{"axis":{"x":"independent","y":"independent"}},
"layer":[
{"data":{"name":"temp"},"mark":{"type":"line","color":"black","strokeWidth":1.3},
"encoding":{"x":{"field":"t","type":"quantitative","scale":{"domain":[0,2000],"nice":false},"axis":{"orient":"bottom","values":[0,500,1000,1500,2000],"tickSize":-5,"labels":false,"title":null}},
"y":{"field":"v","type":"quantitative","scale":{"domain":[50,450],"nice":false,"zero":false},"axis":{"orient":"left","values":[100,200,300,400],"tickSize":5,"labelPadding":3,"title":"Temp /℃","titleX":-58,"titleY":71,"titleAngle":-90,"titleAlign":"center","titleBaseline":"middle"}}}},
{"data":{"values":[{}]},"mark":{"type":"text","align":"left","baseline":"alphabetic","fontSize":19,"font":"Liberation Sans","color":"black"},
"encoding":{"x":{"datum":172,"type":"quantitative","scale":{"domain":[0,2000],"nice":false},"axis":{"orient":"top","values":[0,500,1000,1500,2000],"tickSize":-5,"labels":false,"title":null}},
"y":{"datum":367,"type":"quantitative","scale":{"domain":[50,450],"nice":false,"zero":false},"axis":{"orient":"right","values":[100,200,300,400],"tickSize":-5,"labels":false,"title":null}},
"text":{"value":"(e) Gas Temperature before catalyst"}}}]},
{"width":515,"height":142,"resolve":{"axis":{"x":"independent","y":"independent"}},
"layer":[
{"data":{"name":"thc"},"mark":{"type":"line","color":"black","strokeWidth":1.1},
"encoding":{"x":{"field":"t","type":"quantitative","scale":{"domain":[0,2000],"nice":false},"axis":{"orient":"bottom","values":[0,500,1000,1500,2000],"format":"d","tickSize":-5,"labelPadding":13,"title":"Time  /s","titleFontSize":16,"titlePadding":10}},
"y":{"field":"v","type":"quantitative","scale":{"domain":[-6,200],"nice":false,"zero":false},"axis":{"orient":"left","values":[0,50,100,150,200],"tickSize":5,"labelPadding":3,"title":"THC  / ppmC","titleX":-58,"titleY":71,"titleAngle":-90,"titleAlign":"center","titleBaseline":"middle"}}}},
{"data":{"values":[{}]},"mark":{"type":"text","align":"left","baseline":"alphabetic","fontSize":19,"font":"Liberation Sans","color":"black"},
"encoding":{"x":{"datum":185,"type":"quantitative","scale":{"domain":[0,2000],"nice":false},"axis":{"orient":"top","values":[0,500,1000,1500,2000],"tickSize":-5,"labels":false,"title":null}},
"y":{"datum":157,"type":"quantitative","scale":{"domain":[-6,200],"nice":false,"zero":false},"axis":{"orient":"right","values":[0,50,100,150,200],"tickSize":-5,"labels":false,"title":null}},
"text":{"value":"(f) THC after catalyst"}}}]}
]
}
